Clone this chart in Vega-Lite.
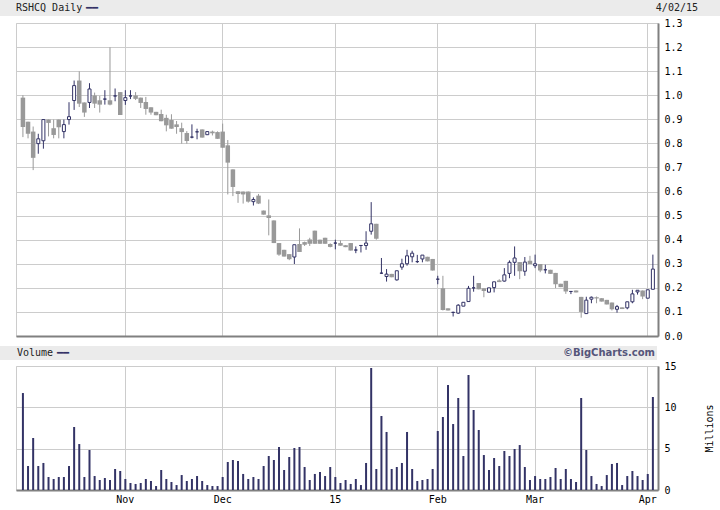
{
  "$schema": "https://vega.github.io/schema/vega-lite/v6.json",
  "padding": 0,
  "background": "white",
  "config": {
    "view": {"stroke": null},
    "font": "DejaVu Sans Mono",
    "axis": {"labelFont": "DejaVu Sans Mono", "labelFontSize": 10, "labelColor": "#000", "titleFont": "DejaVu Sans Mono", "titleFontWeight": "normal", "titleFontSize": 10, "titleColor": "#000", "gridColor": "#cccccc", "gridOpacity": 1, "domainColor": "#808080", "domainWidth": 2, "ticks": false, "labelOverlap": false}
  },
  "datasets": {
    "px": [
      {"d":"2014-10-06","o":0.99,"h":1.0,"l":0.826,"c":0.868,"v":11.73},
      {"d":"2014-10-07","o":0.89,"h":0.89,"l":0.821,"c":0.84,"v":2.9},
      {"d":"2014-10-08","o":0.849,"h":0.87,"l":0.689,"c":0.74,"v":6.29},
      {"d":"2014-10-09","o":0.799,"h":0.84,"l":0.757,"c":0.819,"v":2.9},
      {"d":"2014-10-10","o":0.811,"h":0.899,"l":0.778,"c":0.899,"v":3.27},
      {"d":"2014-10-13","o":0.899,"h":0.899,"l":0.829,"c":0.885,"v":1.57},
      {"d":"2014-10-14","o":0.863,"h":0.899,"l":0.821,"c":0.835,"v":1.33},
      {"d":"2014-10-15","o":0.899,"h":0.899,"l":0.821,"c":0.867,"v":1.57},
      {"d":"2014-10-16","o":0.849,"h":0.899,"l":0.821,"c":0.878,"v":1.57},
      {"d":"2014-10-17","o":0.899,"h":0.971,"l":0.878,"c":0.911,"v":2.9},
      {"d":"2014-10-20","o":0.978,"h":1.061,"l":0.939,"c":1.04,"v":7.62},
      {"d":"2014-10-21","o":1.061,"h":1.099,"l":0.951,"c":0.965,"v":5.56},
      {"d":"2014-10-22","o":0.97,"h":0.97,"l":0.91,"c":0.928,"v":1.57},
      {"d":"2014-10-23","o":0.97,"h":1.05,"l":0.947,"c":1.026,"v":4.84},
      {"d":"2014-10-24","o":0.999,"h":1.011,"l":0.947,"c":0.965,"v":1.69},
      {"d":"2014-10-27","o":0.979,"h":0.997,"l":0.928,"c":0.961,"v":1.21},
      {"d":"2014-10-28","o":0.984,"h":1.021,"l":0.961,"c":0.984,"v":1.45},
      {"d":"2014-10-29","o":0.979,"h":1.199,"l":0.958,"c":0.961,"v":1.21},
      {"d":"2014-10-30","o":0.997,"h":1.028,"l":0.975,"c":0.997,"v":2.54},
      {"d":"2014-10-31","o":1.013,"h":1.013,"l":0.918,"c":0.918,"v":2.3},
      {"d":"2014-11-03","o":0.978,"h":1.021,"l":0.96,"c":0.99,"v":1.33},
      {"d":"2014-11-04","o":0.997,"h":1.021,"l":0.984,"c":0.997,"v":0.85},
      {"d":"2014-11-05","o":0.999,"h":1.013,"l":0.98,"c":0.985,"v":0.73},
      {"d":"2014-11-06","o":0.99,"h":0.99,"l":0.947,"c":0.968,"v":0.85},
      {"d":"2014-11-07","o":0.972,"h":0.993,"l":0.919,"c":0.943,"v":1.33},
      {"d":"2014-11-10","o":0.95,"h":0.95,"l":0.919,"c":0.928,"v":1.09},
      {"d":"2014-11-11","o":0.931,"h":0.931,"l":0.917,"c":0.917,"v":0.48},
      {"d":"2014-11-12","o":0.922,"h":0.94,"l":0.892,"c":0.892,"v":2.42},
      {"d":"2014-11-13","o":0.906,"h":0.919,"l":0.85,"c":0.875,"v":1.33},
      {"d":"2014-11-14","o":0.897,"h":0.921,"l":0.861,"c":0.861,"v":0.97},
      {"d":"2014-11-17","o":0.879,"h":0.893,"l":0.84,"c":0.868,"v":0.6},
      {"d":"2014-11-18","o":0.863,"h":0.886,"l":0.799,"c":0.847,"v":1.81},
      {"d":"2014-11-19","o":0.843,"h":0.851,"l":0.799,"c":0.81,"v":1.09},
      {"d":"2014-11-20","o":0.826,"h":0.879,"l":0.821,"c":0.826,"v":1.33},
      {"d":"2014-11-21","o":0.848,"h":0.861,"l":0.817,"c":0.848,"v":1.69},
      {"d":"2014-11-24","o":0.858,"h":0.858,"l":0.824,"c":0.824,"v":1.09},
      {"d":"2014-11-25","o":0.836,"h":0.849,"l":0.836,"c":0.849,"v":0.6},
      {"d":"2014-11-26","o":0.849,"h":0.853,"l":0.833,"c":0.842,"v":0.48},
      {"d":"2014-11-28","o":0.847,"h":0.85,"l":0.819,"c":0.819,"v":0.48},
      {"d":"2014-12-01","o":0.849,"h":0.882,"l":0.782,"c":0.782,"v":1.57},
      {"d":"2014-12-02","o":0.792,"h":0.814,"l":0.588,"c":0.72,"v":3.39},
      {"d":"2014-12-03","o":0.692,"h":0.692,"l":0.581,"c":0.619,"v":3.63},
      {"d":"2014-12-04","o":0.601,"h":0.601,"l":0.553,"c":0.59,"v":3.51},
      {"d":"2014-12-05","o":0.6,"h":0.6,"l":0.55,"c":0.588,"v":1.94},
      {"d":"2014-12-08","o":0.6,"h":0.6,"l":0.554,"c":0.558,"v":1.33},
      {"d":"2014-12-09","o":0.558,"h":0.576,"l":0.542,"c":0.567,"v":1.57},
      {"d":"2014-12-10","o":0.583,"h":0.59,"l":0.548,"c":0.55,"v":1.33},
      {"d":"2014-12-11","o":0.521,"h":0.521,"l":0.504,"c":0.504,"v":2.9},
      {"d":"2014-12-12","o":0.501,"h":0.567,"l":0.418,"c":0.49,"v":4.11},
      {"d":"2014-12-15","o":0.48,"h":0.48,"l":0.386,"c":0.386,"v":3.63},
      {"d":"2014-12-16","o":0.386,"h":0.386,"l":0.333,"c":0.338,"v":5.2},
      {"d":"2014-12-17","o":0.358,"h":0.358,"l":0.33,"c":0.33,"v":2.42},
      {"d":"2014-12-18","o":0.34,"h":0.34,"l":0.315,"c":0.319,"v":3.99},
      {"d":"2014-12-19","o":0.328,"h":0.379,"l":0.299,"c":0.379,"v":5.08},
      {"d":"2014-12-22","o":0.382,"h":0.447,"l":0.349,"c":0.349,"v":5.2},
      {"d":"2014-12-23","o":0.39,"h":0.392,"l":0.374,"c":0.379,"v":2.78},
      {"d":"2014-12-24","o":0.401,"h":0.408,"l":0.374,"c":0.383,"v":1.21},
      {"d":"2014-12-26","o":0.4375,"h":0.4375,"l":0.383,"c":0.383,"v":1.94},
      {"d":"2014-12-29","o":0.4,"h":0.4,"l":0.383,"c":0.383,"v":2.18},
      {"d":"2014-12-30","o":0.408,"h":0.408,"l":0.383,"c":0.383,"v":1.69},
      {"d":"2014-12-31","o":0.382,"h":0.385,"l":0.368,"c":0.37,"v":2.78},
      {"d":"2015-01-02","o":0.386,"h":0.4,"l":0.36,"c":0.386,"v":1.57},
      {"d":"2015-01-05","o":0.386,"h":0.397,"l":0.375,"c":0.375,"v":0.85},
      {"d":"2015-01-06","o":0.377,"h":0.377,"l":0.369,"c":0.369,"v":1.21},
      {"d":"2015-01-07","o":0.386,"h":0.386,"l":0.355,"c":0.355,"v":0.73},
      {"d":"2015-01-08","o":0.357,"h":0.372,"l":0.344,"c":0.357,"v":1.33},
      {"d":"2015-01-09","o":0.376,"h":0.377,"l":0.347,"c":0.376,"v":0.6},
      {"d":"2015-01-12","o":0.376,"h":0.435,"l":0.358,"c":0.386,"v":3.27},
      {"d":"2015-01-13","o":0.435,"h":0.556,"l":0.421,"c":0.466,"v":14.76},
      {"d":"2015-01-14","o":0.466,"h":0.466,"l":0.4,"c":0.404,"v":2.54},
      {"d":"2015-01-15","o":0.261,"h":0.324,"l":0.258,"c":0.261,"v":8.95},
      {"d":"2015-01-16","o":0.247,"h":0.278,"l":0.226,"c":0.257,"v":7.02},
      {"d":"2015-01-20","o":0.258,"h":0.258,"l":0.244,"c":0.244,"v":2.54},
      {"d":"2015-01-21","o":0.233,"h":0.271,"l":0.23,"c":0.271,"v":2.78},
      {"d":"2015-01-22","o":0.286,"h":0.321,"l":0.275,"c":0.3,"v":3.27},
      {"d":"2015-01-23","o":0.3,"h":0.358,"l":0.292,"c":0.333,"v":7.02},
      {"d":"2015-01-26","o":0.329,"h":0.354,"l":0.306,"c":0.344,"v":2.54},
      {"d":"2015-01-27","o":0.309,"h":0.337,"l":0.303,"c":0.309,"v":1.09},
      {"d":"2015-01-28","o":0.32,"h":0.336,"l":0.306,"c":0.336,"v":1.21},
      {"d":"2015-01-29","o":0.329,"h":0.329,"l":0.31,"c":0.31,"v":1.33},
      {"d":"2015-01-30","o":0.32,"h":0.32,"l":0.272,"c":0.272,"v":2.54},
      {"d":"2015-02-02","o":0.236,"h":0.25,"l":0.215,"c":0.236,"v":7.14},
      {"d":"2015-02-03","o":0.198,"h":0.25,"l":0.106,"c":0.108,"v":8.83},
      {"d":"2015-02-04","o":0.115,"h":0.115,"l":0.106,"c":0.106,"v":12.7},
      {"d":"2015-02-05","o":0.098,"h":0.101,"l":0.081,"c":0.098,"v":7.98},
      {"d":"2015-02-06","o":0.095,"h":0.132,"l":0.092,"c":0.128,"v":11.13},
      {"d":"2015-02-09","o":0.124,"h":0.14,"l":0.124,"c":0.14,"v":4.11},
      {"d":"2015-02-10","o":0.143,"h":0.208,"l":0.143,"c":0.198,"v":13.91},
      {"d":"2015-02-11","o":0.2,"h":0.25,"l":0.184,"c":0.2,"v":9.68},
      {"d":"2015-02-12","o":0.22,"h":0.22,"l":0.194,"c":0.194,"v":7.26},
      {"d":"2015-02-13","o":0.198,"h":0.198,"l":0.161,"c":0.187,"v":4.23},
      {"d":"2015-02-17","o":0.182,"h":0.2,"l":0.182,"c":0.2,"v":2.42},
      {"d":"2015-02-18","o":0.201,"h":0.225,"l":0.181,"c":0.225,"v":3.87},
      {"d":"2015-02-19","o":0.231,"h":0.236,"l":0.224,"c":0.224,"v":2.9},
      {"d":"2015-02-20","o":0.228,"h":0.282,"l":0.226,"c":0.254,"v":4.72},
      {"d":"2015-02-23","o":0.26,"h":0.314,"l":0.24,"c":0.306,"v":4.11},
      {"d":"2015-02-24","o":0.306,"h":0.372,"l":0.25,"c":0.324,"v":4.96},
      {"d":"2015-02-25","o":0.307,"h":0.307,"l":0.236,"c":0.269,"v":5.44},
      {"d":"2015-02-26","o":0.269,"h":0.328,"l":0.25,"c":0.307,"v":2.78},
      {"d":"2015-02-27","o":0.313,"h":0.333,"l":0.299,"c":0.299,"v":1.21},
      {"d":"2015-03-02","o":0.292,"h":0.338,"l":0.282,"c":0.3,"v":1.69},
      {"d":"2015-03-03","o":0.299,"h":0.299,"l":0.265,"c":0.272,"v":1.33},
      {"d":"2015-03-04","o":0.275,"h":0.296,"l":0.26,"c":0.275,"v":1.33},
      {"d":"2015-03-05","o":0.275,"h":0.275,"l":0.258,"c":0.258,"v":1.57},
      {"d":"2015-03-06","o":0.262,"h":0.262,"l":0.199,"c":0.215,"v":2.66},
      {"d":"2015-03-09","o":0.217,"h":0.217,"l":0.203,"c":0.203,"v":1.33},
      {"d":"2015-03-10","o":0.229,"h":0.229,"l":0.175,"c":0.185,"v":2.54},
      {"d":"2015-03-11","o":0.185,"h":0.186,"l":0.174,"c":0.185,"v":1.33},
      {"d":"2015-03-12","o":0.189,"h":0.189,"l":0.181,"c":0.181,"v":0.97},
      {"d":"2015-03-13","o":0.1625,"h":0.1625,"l":0.076,"c":0.1,"v":11.13},
      {"d":"2015-03-16","o":0.093,"h":0.163,"l":0.093,"c":0.149,"v":4.84},
      {"d":"2015-03-17","o":0.153,"h":0.164,"l":0.136,"c":0.161,"v":1.69},
      {"d":"2015-03-18","o":0.161,"h":0.164,"l":0.136,"c":0.156,"v":0.73},
      {"d":"2015-03-19","o":0.157,"h":0.157,"l":0.143,"c":0.143,"v":0.48},
      {"d":"2015-03-20","o":0.15,"h":0.15,"l":0.131,"c":0.131,"v":1.81},
      {"d":"2015-03-23","o":0.139,"h":0.139,"l":0.106,"c":0.111,"v":3.15},
      {"d":"2015-03-24","o":0.111,"h":0.129,"l":0.097,"c":0.122,"v":3.27},
      {"d":"2015-03-25","o":0.119,"h":0.119,"l":0.112,"c":0.112,"v":0.6},
      {"d":"2015-03-26","o":0.117,"h":0.142,"l":0.111,"c":0.142,"v":1.69},
      {"d":"2015-03-27","o":0.142,"h":0.192,"l":0.136,"c":0.175,"v":2.3},
      {"d":"2015-03-30","o":0.183,"h":0.19,"l":0.172,"c":0.19,"v":1.69},
      {"d":"2015-03-31","o":0.189,"h":0.189,"l":0.153,"c":0.164,"v":1.21},
      {"d":"2015-04-01","o":0.157,"h":0.192,"l":0.157,"c":0.192,"v":1.94},
      {"d":"2015-04-02","o":0.194,"h":0.338,"l":0.194,"c":0.278,"v":11.25}
    ]
  },
  "spacing": 4,
  "vconcat": [
    {
      "spacing": 1,
      "vconcat": [
        {
          "width": 720,
          "height": 16,
          "view": {"fill": "#ebebeb", "stroke": null},
          "data": {"values": [{"t": "RSHCQ Daily", "r": "4/02/15", "dash": "━━"}]},
          "layer": [
            {"mark": {"type": "text", "align": "left", "baseline": "middle", "font": "DejaVu Sans Mono", "fontSize": 10, "color": "#222"}, "encoding": {"text": {"field": "t"}, "x": {"value": 16}, "y": {"value": 8}}},
            {"mark": {"type": "text", "align": "left", "baseline": "middle", "font": "DejaVu Sans Mono", "fontSize": 10, "color": "#333366"}, "encoding": {"text": {"field": "dash"}, "x": {"value": 86}, "y": {"value": 8}}},
            {"mark": {"type": "text", "align": "right", "baseline": "middle", "font": "DejaVu Sans Mono", "fontSize": 10, "color": "#222"}, "encoding": {"text": {"field": "r"}, "x": {"value": 698}, "y": {"value": 8}}}
          ]
        },
        {
          "spacing": 0,
          "hconcat": [
            {"width": 15, "height": 313, "view": {"stroke": null}, "data": {"values": [{}]}, "mark": {"type": "point", "opacity": 0}},
            {
              "width": 642,
              "height": 313,
              "view": {"stroke": "#cccccc", "fill": "white"},
              "data": {"name": "px"},
              "encoding": {
                "x": {"field": "d", "type": "ordinal", "scale": {"type": "band", "paddingInner": 0, "paddingOuter": 0.675, "align": 0.63},
                  "axis": {"values": ["2014-11-03", "2014-12-01", "2015-01-02", "2015-02-02", "2015-03-02", "2015-04-01"], "labels": false, "grid": true, "bandPosition": 0.5, "title": null, "domain": true}}
              },
              "layer": [
                {
                  "mark": {"type": "rule", "strokeWidth": 1},
                  "encoding": {
                    "y": {"field": "l", "type": "quantitative", "scale": {"domain": [0, 1.3], "nice": false, "zero": true},
                      "axis": {"orient": "right", "values": [0, 0.1, 0.2, 0.3, 0.4, 0.5, 0.6, 0.7, 0.8, 0.9, 1.0, 1.1, 1.2, 1.3], "format": ".1f", "grid": true, "labelPadding": 6, "labelOverlap": false, "title": null}},
                    "y2": {"field": "h"},
                    "color": {"condition": {"test": "datum.c >= datum.o", "value": "#333366"}, "value": "#999999"}
                  }
                },
                {
                  "transform": [{"filter": "datum.c < datum.o"}],
                  "mark": {"type": "bar", "size": 4.5, "color": "#999999"},
                  "encoding": {"y": {"field": "o", "type": "quantitative",
                      "axis": {"orient": "right", "values": [0, 0.1, 0.2, 0.3, 0.4, 0.5, 0.6, 0.7, 0.8, 0.9, 1.0, 1.1, 1.2, 1.3], "format": ".1f", "grid": true, "labelPadding": 6, "labelOverlap": false, "title": null}},
                    "y2": {"field": "c"}}
                },
                {
                  "transform": [{"filter": "datum.c >= datum.o"}],
                  "mark": {"type": "bar", "size": 3, "fill": "white", "stroke": "#333366", "strokeWidth": 1},
                  "encoding": {"y": {"field": "o", "type": "quantitative",
                      "axis": {"orient": "right", "values": [0, 0.1, 0.2, 0.3, 0.4, 0.5, 0.6, 0.7, 0.8, 0.9, 1.0, 1.1, 1.2, 1.3], "format": ".1f", "grid": true, "labelPadding": 6, "labelOverlap": false, "title": null}},
                    "y2": {"field": "c"}}
                }
              ]
            }
          ]
        }
      ]
    },
    {
      "spacing": 0,
      "vconcat": [
        {
          "width": 657,
          "height": 14,
          "view": {"fill": "#ebebeb", "stroke": null},
          "data": {"values": [{"t": "Volume", "dash": "━━", "r": "©BigCharts.com"}]},
          "layer": [
            {"mark": {"type": "text", "align": "left", "baseline": "middle", "font": "DejaVu Sans Mono", "fontSize": 10, "color": "#222"}, "encoding": {"text": {"field": "t"}, "x": {"value": 17}, "y": {"value": 7}}},
            {"mark": {"type": "text", "align": "left", "baseline": "middle", "font": "DejaVu Sans Mono", "fontSize": 10, "color": "#333366"}, "encoding": {"text": {"field": "dash"}, "x": {"value": 57}, "y": {"value": 7}}},
            {"mark": {"type": "text", "align": "right", "baseline": "middle", "font": "DejaVu Sans", "fontWeight": "bold", "fontSize": 10, "color": "#55557a"}, "encoding": {"text": {"field": "r"}, "x": {"value": 655}, "y": {"value": 7}}}
          ]
        },
        {
          "spacing": 0,
          "hconcat": [
            {"width": 15, "height": 124, "view": {"stroke": null}, "data": {"values": [{}]}, "mark": {"type": "point", "opacity": 0}},
            {
              "width": 642,
              "height": 124,
              "view": {"stroke": "#cccccc", "fill": "white"},
              "data": {"name": "px"},
              "mark": {"type": "bar", "size": 2, "color": "#333366"},
              "encoding": {
                "x": {"field": "d", "type": "ordinal", "scale": {"type": "band", "paddingInner": 0, "paddingOuter": 0.675, "align": 0.63},
                  "axis": {"values": ["2014-11-03", "2014-12-01", "2015-01-02", "2015-02-02", "2015-03-02", "2015-04-01"], "grid": true, "bandPosition": 0.5, "title": null, "labelAngle": 0, "labelPadding": 4, "labelOverlap": false,
                    "labelExpr": "datum.value == '2014-11-03' ? 'Nov' : datum.value == '2014-12-01' ? 'Dec' : datum.value == '2015-01-02' ? '15' : datum.value == '2015-02-02' ? 'Feb' : datum.value == '2015-03-02' ? 'Mar' : 'Apr'"}},
                "y": {"field": "v", "type": "quantitative", "scale": {"domain": [0, 15], "nice": false},
                  "axis": {"orient": "right", "values": [0, 5, 10, 15], "format": "d", "grid": true, "labelPadding": 6, "labelOverlap": false, "title": "Millions", "titleAngle": 270, "titlePadding": 38}}
              }
            }
          ]
        }
      ]
    }
  ]
}
